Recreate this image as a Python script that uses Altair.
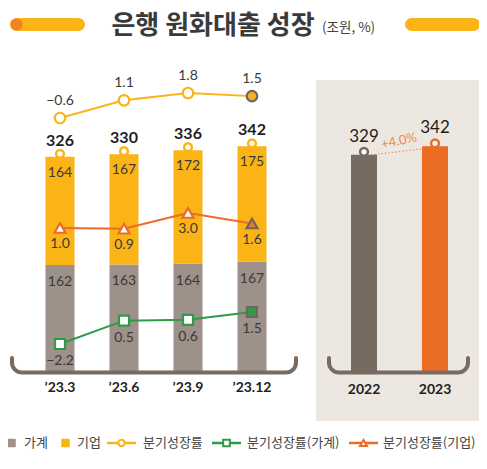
import math
import altair as alt
import pandas as pd

# ---------------- data ----------------
quarters = ["’23.3", "’23.6", "’23.9", "’23.12"]
household = [162, 163, 164, 167]
corporate = [164, 167, 172, 175]
totals = [326, 330, 336, 342]
growth_total = [-0.6, 1.1, 1.8, 1.5]
growth_house = [-2.2, 0.5, 0.6, 1.5]
growth_corp = [1.0, 0.9, 3.0, 1.6]
growth_total_labels = ["−0.6", "1.1", "1.8", "1.5"]
growth_house_labels = ["−2.2", "0.5", "0.6", "1.5"]
growth_corp_labels = ["1.0", "0.9", "3.0", "1.6"]
years = ["2022", "2023"]
annual = [329, 342]
annual_change = "+4.0%"
title_text = "은행 원화대출 성장"
unit_text = "(조원, %)"
legend_labels = ["가계", "기업", "분기성장률", "분기성장률(가계)", "분기성장률(기업)"]

# ---------------- styles ----------------
GREY_BAR = "#9d9189"
YELLOW = "#fbb416"
ORANGE = "#ec6c27"
GREEN = "#2e9b4a"
DARK = "#776b61"
BG = "#ece8e1"
Y2022 = "#766b60"
Y2023 = "#eb6d24"
TXT = "#3a3a3a"
KR = "Noto Sans CJK KR"
NUM = "Lato"
O = 8  # page margin offset

q = pd.DataFrame({
    "q": quarters, "h0": [0] * 4, "h1": household, "c1": totals,
    "corp": corporate, "gt": growth_total, "gh": growth_house, "gc": growth_corp,
    "gtl": growth_total_labels, "ghl": growth_house_labels, "gcl": growth_corp_labels,
})
yr = pd.DataFrame({"year": years, "v": annual, "zero": [0, 0]})

xq = alt.X("q:N", scale=alt.Scale(type="band", domain=quarters, range=[20, 276],
                                  paddingInner=0, paddingOuter=0), axis=None)
xy = alt.X("year:N", scale=alt.Scale(type="band", domain=years, range=[320.5, 462.5],
                                     paddingInner=0, paddingOuter=0), axis=None)
ybar = alt.Scale(domain=[0, 400], range=[364, 100], nice=False, zero=False)
yt = alt.Scale(domain=[-0.6, 1.8], range=[110, 85], nice=False, zero=False)
yc = alt.Scale(domain=[1.0, 3.0], range=[220, 205], nice=False, zero=False)
yh = alt.Scale(domain=[-2.2, 1.5], range=[336, 304], nice=False, zero=False)

is_last = alt.datum.q == quarters[-1]


def one(**kw):
    return alt.Chart(pd.DataFrame([kw if kw else {"k": 0}]))


layers = []

# right panel background
layers.append(one().mark_rect(color=BG).encode(
    x=alt.value(316 - O), x2=alt.value(481 - O), y=alt.value(80 - O), y2=alt.value(421 - O)))

# ---- title row ----
for x1, x2 in [(16.5, 78.5), (411.5, 473.5)]:
    layers.append(one().mark_rule(color=YELLOW, strokeWidth=13, strokeCap="round").encode(
        x=alt.value(x1 - O), x2=alt.value(x2 - O), y=alt.value(24.5 - O)))
layers.append(one().mark_point(shape="circle", filled=True, size=150, color="#f08424", opacity=1).encode(
    x=alt.value(16.5 - O), y=alt.value(24.5 - O)))
layers.append(one(t=title_text).mark_text(font=KR, fontSize=26, fontWeight="bold", color=TXT,
                                          align="center", baseline="middle").encode(
    x=alt.value(213 - O), y=alt.value(26 - O), text="t:N"))
layers.append(one(t=unit_text).mark_text(font=KR, fontSize=13.5, color="#444", align="left",
                                         baseline="middle").encode(
    x=alt.value(322 - O), y=alt.value(28 - O), text="t:N"))

# ---- left panel: stacked bars ----
base = alt.Chart(q)
layers.append(base.mark_bar(size=29, color=GREY_BAR).encode(
    x=xq, y=alt.Y("h0:Q", scale=ybar, axis=None), y2="h1:Q"))
layers.append(base.mark_bar(size=29, color=YELLOW).encode(
    x=xq, y=alt.Y("h1:Q", scale=ybar, axis=None), y2="c1:Q"))
layers.append(base.mark_point(shape="circle", filled=True, size=60, fill="white", stroke=YELLOW,
                              strokeWidth=2.5, opacity=1, yOffset=-3).encode(
    x=xq, y=alt.Y("c1:Q", scale=ybar, axis=None)))
layers.append(base.mark_text(font=NUM, fontSize=16, fontWeight="bold", color="#1e1e1e", dy=-16).encode(
    x=xq, y=alt.Y("c1:Q", scale=ybar, axis=None), text="c1:Q"))
layers.append(base.mark_text(font=NUM, fontSize=14, color="#3a3a3a", dy=16).encode(
    x=xq, y=alt.Y("c1:Q", scale=ybar, axis=None), text="corp:Q"))
layers.append(base.mark_text(font=NUM, fontSize=14, color="#3a3a3a", dy=17).encode(
    x=xq, y=alt.Y("h1:Q", scale=ybar, axis=None), text="h1:Q"))

# growth lines
def growth(field, lab, scale, color, shape, size, last_fill, dy):
    out = []
    out.append(base.mark_line(color=color, strokeWidth=2).encode(
        x=xq, y=alt.Y(f"{field}:Q", scale=scale, axis=None)))
    out.append(base.mark_point(shape=shape, filled=True, size=size, strokeWidth=2.2, opacity=1).encode(
        x=xq, y=alt.Y(f"{field}:Q", scale=scale, axis=None),
        fill=alt.condition(is_last, alt.value(last_fill), alt.value("white")),
        stroke=alt.condition(is_last, alt.value("#6f665d"), alt.value(color))))
    out.append(base.mark_text(font=NUM, fontSize=14, color="#3a3a3a", dy=dy).encode(
        x=xq, y=alt.Y(f"{field}:Q", scale=scale, axis=None), text=f"{lab}:N"))
    return out

layers += growth("gt", "gtl", yt, YELLOW, "circle", 110, "#f5b21c", -17)
layers += growth("gc", "gcl", yc, ORANGE, "triangle-up", 120, "#e5792f", 16)
layers += growth("gh", "ghl", yh, GREEN, "square", 100, GREEN, 17)

# x labels
layers.append(base.mark_text(font=NUM, fontSize=14, fontWeight="bold", color="#222").encode(
    x=xq, y=alt.value(388 - O), text="q:N"))

# ---- right panel ----
rb = alt.Chart(yr)
layers.append(rb.mark_line(color="#f39155", strokeWidth=1.2, strokeDash=[1.5, 2], yOffset=1).encode(
    x=xy, y=alt.Y("v:Q", scale=ybar, axis=None)))
layers.append(rb.mark_bar(size=26).encode(
    x=xy, y=alt.Y("zero:Q", scale=ybar, axis=None), y2="v:Q",
    color=alt.Color("year:N", scale=alt.Scale(domain=years, range=[Y2022, Y2023]), legend=None)))
layers.append(rb.mark_point(shape="circle", filled=True, size=60, fill="white", strokeWidth=2.5,
                            opacity=1, yOffset=-3).encode(
    x=xy, y=alt.Y("v:Q", scale=ybar, axis=None),
    stroke=alt.Color("year:N", scale=alt.Scale(domain=years, range=[Y2022, Y2023]), legend=None)))
layers.append(rb.mark_text(font=NUM, fontSize=17, color="#1e1e1e", dy=-18).encode(
    x=xy, y=alt.Y("v:Q", scale=ybar, axis=None), text="v:Q"))
layers.append(rb.mark_text(font=NUM, fontSize=14, fontWeight="bold", color="#222").encode(
    x=xy, y=alt.value(390 - O), text="year:N"))
layers.append(one(t=annual_change).mark_text(font=NUM, fontSize=13, color="#f08a4b", angle=348,
                                             align="center", baseline="middle").encode(
    x=alt.value(399 - O), y=alt.value(141 - O), text="t:N"))

# ---- brackets ----
def bracket(xl, xr, ytop=358, ybot=372.5, r=10):
    out = []
    kw = dict(color=DARK, strokeWidth=4, strokeCap="round")
    out.append(one().mark_rule(**kw).encode(x=alt.value(xl - O), y=alt.value(ytop - O), y2=alt.value(ybot - r - O)))
    out.append(one().mark_rule(**kw).encode(x=alt.value(xr - O), y=alt.value(ytop - O), y2=alt.value(ybot - r - O)))
    out.append(one().mark_rule(color=DARK, strokeWidth=4).encode(
        x=alt.value(xl + r - O), x2=alt.value(xr - r - O), y=alt.value(ybot - O)))
    out.append(one().mark_arc(theta=math.pi, theta2=1.5 * math.pi, innerRadius=r - 2, outerRadius=r + 2,
                              color=DARK).encode(x=alt.value(xl + r - O), y=alt.value(ybot - r - O)))
    out.append(one().mark_arc(theta=0.5 * math.pi, theta2=math.pi, innerRadius=r - 2, outerRadius=r + 2,
                              color=DARK).encode(x=alt.value(xr - r - O), y=alt.value(ybot - r - O)))
    return out

layers += bracket(12, 296)
layers += bracket(329, 468)

# ---- legend ----
LY = 443 - O
lk = dict(font=KR, fontSize=13, color="#444", align="left", baseline="middle")
layers.append(one().mark_square(size=72, color=GREY_BAR, opacity=1).encode(x=alt.value(11.5 - O), y=alt.value(LY)))
layers.append(one().mark_square(size=72, color=YELLOW, opacity=1).encode(x=alt.value(65.5 - O), y=alt.value(LY)))
for (x1, x2, col, shape, sz) in [(107, 136, YELLOW, "circle", 40), (212, 241, GREEN, "square", 45),
                                 (349, 378, ORANGE, "triangle-up", 50)]:
    layers.append(one().mark_rule(color=col, strokeWidth=2.5).encode(
        x=alt.value(x1 - O), x2=alt.value(x2 - O), y=alt.value(LY)))
    layers.append(one().mark_point(shape=shape, filled=True, size=sz, fill="white", stroke=col,
                                   strokeWidth=2, opacity=1).encode(
        x=alt.value((x1 + x2) / 2 - O), y=alt.value(LY)))
for lab, x in zip(legend_labels, [24, 77, 143, 247, 383]):
    layers.append(one(t=lab).mark_text(**lk).encode(x=alt.value(x - O), y=alt.value(LY), text="t:N"))

chart = alt.layer(*layers).resolve_scale(x="independent", y="independent", color="independent",
                                         stroke="independent").properties(
    width=471, height=453, autosize=alt.AutoSizeParams(type="none"), padding=0
).configure_view(strokeWidth=0)

chart.save("out.html", embed_options={"renderer": "svg", "actions": False})
